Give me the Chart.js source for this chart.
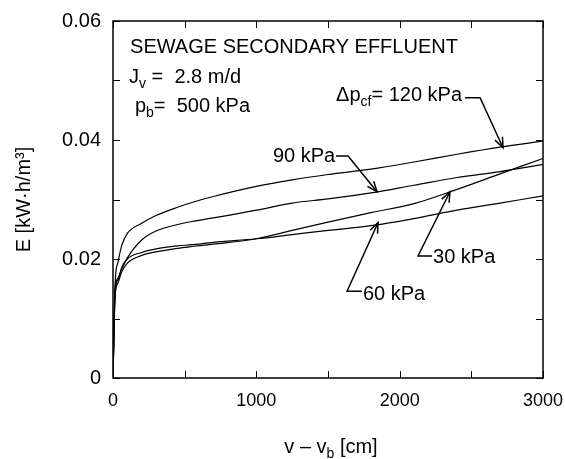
<!DOCTYPE html>
<html>
<head>
<meta charset="utf-8">
<script src="https://cdn.jsdelivr.net/npm/chart.js@4.4.1/dist/chart.umd.min.js"></script>
<style>
  html, body { margin: 0; padding: 0; background: #fff; }
  canvas { display: block; }
</style>
</head>
<body>
<canvas id="energyChart" width="565" height="459"></canvas>
<script>
const FONT = "'Liberation Sans', Arial, Helvetica, sans-serif";

// filtration distance v - vb [cm], shared by every curve
const distance = [0, 15, 35, 60, 100, 200, 300, 450, 550, 700, 1000, 1250, 1500, 1800, 2100, 2400, 2700, 3000];

// specific energy E [kW·h/m3] for each crossflow pressure
const e120 = [0, 0.0160, 0.0195, 0.0222, 0.0243, 0.0260, 0.0273, 0.0287, 0.0295, 0.0305, 0.0322, 0.0333, 0.0342, 0.0351, 0.0363, 0.0376, 0.0388, 0.0398];
const e90  = [0, 0.0150, 0.0168, 0.0183, 0.0202, 0.0232, 0.0247, 0.0258, 0.0263, 0.0269, 0.0282, 0.0294, 0.0301, 0.0311, 0.0324, 0.0337, 0.0347, 0.0359];
const e60  = [0, 0.0148, 0.0165, 0.0185, 0.0200, 0.0211, 0.0217, 0.0222, 0.0224, 0.0228, 0.0234, 0.0241, 0.0248, 0.0256, 0.0268, 0.0282, 0.0294, 0.0306];
const e30  = [0, 0.0138, 0.0160, 0.0178, 0.0193, 0.0206, 0.0212, 0.0218, 0.0221, 0.0225, 0.0234, 0.0248, 0.0262, 0.0278, 0.0293, 0.0317, 0.0343, 0.0369];

const xTickLabels = [0, 1000, 2000, 3000];
const yTickLabels = [0, 0.02, 0.04, 0.06];

// text labels placed in data units: [x, E] of the left baseline
const notes = [
  { at: [119, 0.0546], parts: [['SEWAGE SECONDARY EFFLUENT']] },
  { at: [112, 0.0496], parts: [['J'], ['v', 'sub'], [' =  2.8 m/d']] },
  { at: [153, 0.0447], parts: [['p'], ['b', 'sub'], ['=  500 kPa']] },
  { at: [1556, 0.0466], parts: [['\u0394p'], ['cf', 'sub'], ['= 120 kPa']] },
  { at: [1116, 0.0363], parts: [['90 kPa']] },
  { at: [2233, 0.0193], parts: [['30 kPa']] },
  { at: [1744, 0.0131], parts: [['60 kPa']] }
];

// leader lines, the last point of each is the arrow tip
const leaders = [
  [[2456, 0.0471], [2561, 0.0471], [2721, 0.0387]],
  [[1556, 0.0373], [1640, 0.0373], [1842, 0.0313]],
  [[2226, 0.0205], [2128, 0.0205], [2351, 0.0313]],
  [[1737, 0.0146], [1633, 0.0146], [1849, 0.0261]]
];

function toPoints(values) {
  return distance.map((x, i) => ({ x: x, y: values[i] }));
}

function partFont(kind) {
  return kind === 'sub' ? '14px ' + FONT : '20px ' + FONT;
}

function richWidth(ctx, parts) {
  let w = 0;
  parts.forEach(([text, kind]) => {
    ctx.font = partFont(kind);
    w += ctx.measureText(text).width;
  });
  return w;
}

function drawRich(ctx, parts, x, y) {
  ctx.textAlign = 'left';
  ctx.textBaseline = 'alphabetic';
  parts.forEach(([text, kind]) => {
    ctx.font = partFont(kind);
    ctx.fillText(text, x, kind === 'sub' ? y + 5 : y);
    x += ctx.measureText(text).width;
  });
}

function drawLeader(ctx, pts) {
  ctx.beginPath();
  ctx.moveTo(pts[0][0], pts[0][1]);
  for (let i = 1; i < pts.length; i++) ctx.lineTo(pts[i][0], pts[i][1]);
  ctx.stroke();

  const [tx, ty] = pts[pts.length - 1];
  const [px, py] = pts[pts.length - 2];
  const ang = Math.atan2(ty - py, tx - px);
  const len = 11;
  const spread = 0.38;
  ctx.beginPath();
  ctx.moveTo(tx - len * Math.cos(ang - spread), ty - len * Math.sin(ang - spread));
  ctx.lineTo(tx, ty);
  ctx.lineTo(tx - len * Math.cos(ang + spread), ty - len * Math.sin(ang + spread));
  ctx.stroke();
}

const framePlugin = {
  id: 'frame',
  afterDraw(chart) {
    const ctx = chart.ctx;
    const area = chart.chartArea;
    const xs = chart.scales.x;
    const ys = chart.scales.y;
    const tick = 7;

    ctx.save();
    ctx.strokeStyle = '#000';
    ctx.fillStyle = '#000';

    // box round the plot
    ctx.lineWidth = 1.5;
    ctx.strokeRect(area.left, area.top, area.right - area.left, area.bottom - area.top);

    // inward ticks on all four sides
    ctx.lineWidth = 1;
    ctx.beginPath();
    xs.ticks.forEach(t => {
      const px = Math.round(xs.getPixelForValue(t.value)) + 0.5;
      ctx.moveTo(px, area.bottom);
      ctx.lineTo(px, area.bottom - tick);
      ctx.moveTo(px, area.top);
      ctx.lineTo(px, area.top + tick);
    });
    ys.ticks.forEach(t => {
      const py = Math.round(ys.getPixelForValue(t.value)) + 0.5;
      ctx.moveTo(area.left, py);
      ctx.lineTo(area.left + tick, py);
      ctx.moveTo(area.right, py);
      ctx.lineTo(area.right - tick, py);
    });
    ctx.stroke();

    // annotations and their arrows
    notes.forEach(n => {
      drawRich(ctx, n.parts, xs.getPixelForValue(n.at[0]), ys.getPixelForValue(n.at[1]));
    });
    ctx.lineWidth = 1.5;
    leaders.forEach(l => {
      drawLeader(ctx, l.map(p => [xs.getPixelForValue(p[0]), ys.getPixelForValue(p[1])]));
    });

    // x axis title, needs a subscript so it is drawn here
    const xTitle = [['v \u2013 v'], ['b', 'sub'], [' [cm]']];
    const w = richWidth(ctx, xTitle);
    drawRich(ctx, xTitle, (area.left + area.right) / 2 + 3 - w / 2, area.bottom + 75);

    ctx.restore();
  }
};

function lineSet(label, values) {
  return {
    label: label,
    data: toPoints(values),
    borderColor: '#000',
    borderWidth: 1.2,
    pointRadius: 0,
    cubicInterpolationMode: 'monotone',
    fill: false
  };
}

function initChart() {
  const ctx = document.getElementById('energyChart').getContext('2d');
  new Chart(ctx, {
    type: 'line',
    data: {
      datasets: [
        lineSet('120 kPa', e120),
        lineSet('90 kPa', e90),
        lineSet('60 kPa', e60),
        lineSet('30 kPa', e30)
      ]
    },
    options: {
      responsive: false,
      animation: false,
      layout: { padding: { top: 21, right: 22, left: 0, bottom: 0 } },
      plugins: { legend: { display: false }, tooltip: { enabled: false } },
      scales: {
        x: {
          type: 'linear',
          min: 0,
          max: 3000,
          grid: { display: false, drawTicks: false },
          border: { display: false },
          ticks: {
            stepSize: 500,
            autoSkip: false,
            maxRotation: 0,
            padding: 12,
            color: '#000',
            font: { family: FONT, size: 18 },
            callback: v => (xTickLabels.includes(v) ? String(v) : '')
          },
          afterFit: scale => {
            scale.height = 81;
            // keep the end labels from pulling the plot inwards
            scale.paddingLeft = 0;
            scale.paddingRight = 0;
          }
        },
        y: {
          type: 'linear',
          min: 0,
          max: 0.06,
          grid: { display: false, drawTicks: false },
          border: { display: false },
          ticks: {
            stepSize: 0.01,
            autoSkip: false,
            padding: 12,
            color: '#000',
            font: { family: FONT, size: 20 },
            callback: v => {
              const hit = yTickLabels.find(t => Math.abs(t - v) < 1e-9);
              if (hit === undefined) return '';
              return hit === 0 ? '0' : hit.toFixed(2);
            }
          },
          title: {
            display: true,
            text: 'E [kW\u00b7h/m\u00b3]',
            color: '#000',
            font: { family: FONT, size: 20 },
            padding: { top: 12, bottom: 0 }
          },
          afterFit: scale => {
            scale.width = 113;
            scale.paddingTop = 0;
            scale.paddingBottom = 0;
          }
        }
      }
    },
    plugins: [framePlugin]
  });
}

window.addEventListener('DOMContentLoaded', initChart);
</script>
</body>
</html>
